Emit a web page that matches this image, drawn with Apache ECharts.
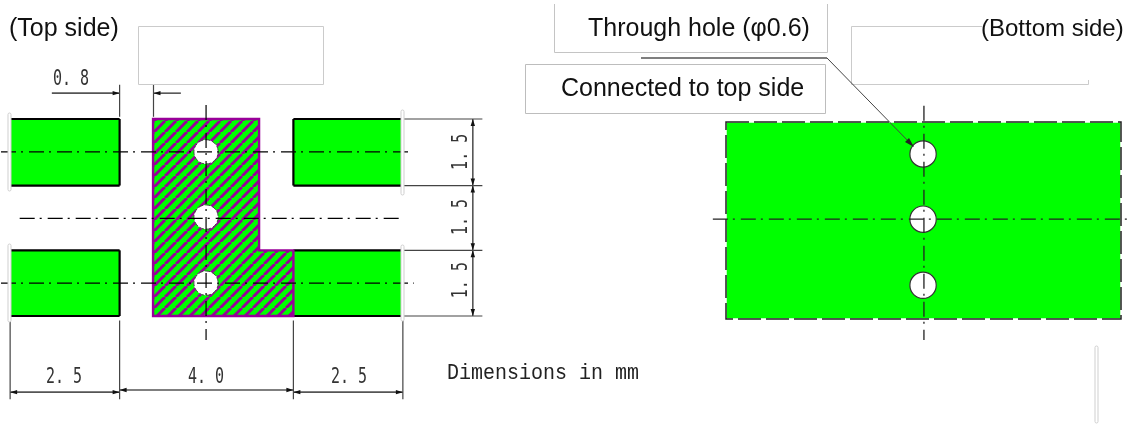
<!DOCTYPE html>
<html><head><meta charset="utf-8">
<style>html,body{margin:0;padding:0;background:#fff}#c{width:1130px;height:424px}</style>
<script src="https://cdn.jsdelivr.net/npm/echarts@6/dist/echarts.min.js"></script>
</head><body><div id="c"></div>
<script>
// All drawing values are millimetres on the part.
const padRects = [[0,0,2.5,1.52],[0,3,2.5,4.5],[6.5,0,9,1.52],[6.5,3,9,4.5]];
const padEdges = [[0,0,2.5,0],[2.5,0,2.5,1.52],[2.5,1.52,0,1.52],[0,3,2.5,3],[2.5,3,2.5,4.5],[2.5,4.5,0,4.5],
                  [9,0,6.5,0],[6.5,0,6.5,1.52],[6.5,1.52,9,1.52],[6.5,3,9,3],[6.5,4.5,9,4.5]];
const copperOutline = [[3.27,0],[5.71,0],[5.71,3],[6.5,3],[6.5,4.5],[3.27,4.5]];
const topHoles = [[4.49,0.75],[4.49,2.24],[4.49,3.75]];
const topHoleDia = 0.56;
const topCenterLines = [[-0.23,0.75,9.25,0.75],[0.2,2.27,9.0,2.27],[-0.23,3.75,9.27,3.75],[4.49,-0.32,4.49,5.05]];
const extensionLines = [[9.03,0,10.85,0],[9.03,1.52,10.85,1.52],[9.03,3,10.85,3],[9.03,4.5,10.85,4.5],
                        [-0.02,4.6,-0.02,6.4],[2.5,4.6,2.5,6.4],[6.5,4.6,6.5,6.4],[9.02,4.6,9.02,6.4],
                        [2.5,-0.78,2.5,-0.05],[3.28,-0.78,3.28,-0.05]];
const dimensionLines = [[-0.02,6.24,2.5,6.24],[2.5,6.19,6.5,6.19],[6.5,6.24,9.02,6.24],
                        [10.63,0,10.63,1.52],[10.63,1.52,10.63,3],[10.63,3,10.63,4.5]];
const outsideDim = [[0.94,-0.59,2.5,-0.59],[3.91,-0.59,3.28,-0.59]];
const dimLabels = [["0. 8",1.38,-0.91,0],["2. 5",1.22,5.9,0],["4. 0",4.49,5.9,0],["2. 5",7.78,5.9,0],
                   ["1. 5",10.36,0.75,1],["1. 5",10.36,2.24,1],["1. 5",10.36,3.68,1]];
const bottomPlane = [[0,0,9,4.5]];
const bottomHoles = [[4.49,0.73],[4.49,2.22],[4.49,3.73]];
const bottomHoleDia = 0.6;
const bottomCenterLines = [[-0.3,2.22,9.3,2.22],[4.51,-0.37,4.51,4.98]];

const GREEN='#00ff00', PURPLE='#990099';
const CENTER=[15,5,2,6];

function hatch(){
  const s=11, c=document.createElement('canvas'); c.width=c.height=s;
  const g=c.getContext('2d'); g.fillStyle=GREEN; g.fillRect(0,0,s,s);
  g.strokeStyle=PURPLE; g.lineWidth=3;
  for(let i=-1;i<=1;i++){g.beginPath();g.moveTo(i*s,s);g.lineTo(i*s+s,0);g.stroke();}
  return {image:c,repeat:'repeat'};
}
function ax(max,inv,i){return {type:'value',gridIndex:i,min:0,max:max,inverse:inv,show:false,scale:false};}
function custom(grid,data,render,z){
  return {type:'custom',xAxisIndex:grid,yAxisIndex:grid,data:data,clip:false,silent:true,z:z||2,
    animation:false,renderItem:render,encode:{x:0,y:1}};
}
const segs=(style)=>(p,api)=>{
  const a=api.coord([api.value(0),api.value(1)]),b=api.coord([api.value(2),api.value(3)]);
  return {type:'line',shape:{x1:a[0],y1:a[1],x2:b[0],y2:b[1]},style:Object.assign({fill:null},style)};
};
const rects=(style)=>(p,api)=>{
  const a=api.coord([api.value(0),api.value(1)]),b=api.coord([api.value(2),api.value(3)]);
  return {type:'rect',shape:{x:a[0],y:a[1],width:b[0]-a[0],height:b[1]-a[1]},style:style};
};
const holes=(dia,style)=>(p,api)=>{
  const a=api.coord([api.value(0),api.value(1)]),s=api.size([dia,dia]);
  return {type:'circle',shape:{cx:a[0],cy:a[1],r:s[0]/2},style:style};
};
function arrow(tip,dx,dy,len,w){
  const px=-dy,py=dx;
  return {type:'polygon',shape:{points:[[tip[0],tip[1]],
    [tip[0]-dx*len+px*w,tip[1]-dy*len+py*w],[tip[0]-dx*len-px*w,tip[1]-dy*len-py*w]]},
    style:{fill:'#111'}};
}
const dimRender=(both)=>(p,api)=>{
  const a=api.coord([api.value(0),api.value(1)]),b=api.coord([api.value(2),api.value(3)]);
  const L=Math.hypot(b[0]-a[0],b[1]-a[1]),dx=(b[0]-a[0])/L,dy=(b[1]-a[1])/L;
  const ch=[{type:'line',shape:{x1:a[0],y1:a[1],x2:b[0],y2:b[1]},style:{stroke:'#555',lineWidth:1.6}}];
  ch.push(arrow(b,dx,dy,7,2.2));
  if(both) ch.push(arrow(a,-dx,-dy,7,2.2));
  return {type:'group',children:ch};
};
const labelRender=(p,api)=>{
  const d=dimLabels[p.dataIndex],a=api.coord([d[1],d[2]]),v=d[3]===1;
  return {type:'text',x:a[0],y:a[1],rotation:v?Math.PI/2:0,scaleX:1,scaleY:1.4,
    style:{text:d[0],font:'15px "DejaVu Sans Mono"',fill:'#333',align:'center',verticalAlign:'middle'}};
};
const copper=(p,api)=>({type:'polygon',shape:{points:copperOutline.map(c=>api.coord(c))},
  style:{fill:hatch(),stroke:PURPLE,lineWidth:2.4}});

const text=(t,x,y,size)=>({type:'text',x:x,y:y,z:20,silent:true,
  style:{text:t,font:size+'px "Liberation Sans"',fill:'#111',verticalAlign:'middle',align:'left'}});
const poly=(pts,close,color,w)=>({type:close?'polygon':'polyline',z:15,silent:true,shape:{points:pts},
  style:{fill:close?'#fff':null,stroke:color,lineWidth:w}});
const sliver=(x,y1,y2)=>({type:'rect',z:15,silent:true,shape:{x:x,y:y1,width:3,height:y2-y1,r:2},
  style:{fill:'#fff',stroke:'#cfcfcf',lineWidth:1}});

const chart=echarts.init(document.getElementById('c'),null,{renderer:'canvas'});
chart.setOption({
  animation:false,backgroundColor:'#fff',
  grid:[{left:11,top:119,width:391,height:197},{left:726,top:122,width:395,height:197}],
  xAxis:[ax(9,false,0),ax(9,false,1)],
  yAxis:[ax(4.5,true,0),ax(4.5,true,1)],
  graphic:{elements:[
    poly([[138.5,26.5],[323.5,26.5],[323.5,84.5],[138.5,84.5]],true,'#cbcbcb',1),
    poly([[1088.5,80],[1088.5,84.5],[851.5,84.5],[851.5,26.5],[982,26.5]],false,'#cbcbcb',1),
    poly([[554.5,4],[554.5,52.5],[827.5,52.5],[827.5,4]],false,'#c4c4c4',1),
    poly([[525.5,64.5],[825.5,64.5],[825.5,113.5],[525.5,113.5]],true,'#bdbdbd',1),
    poly([[641,58],[827,58]],false,'#555',1.5),
    poly([[827,58],[912,145]],false,'#444',1),
    {type:'polygon',z:16,silent:true,shape:{points:[[914,147],[905,142],[909,138]]},style:{fill:'#222'}},
    sliver(8,113,191),sliver(8,244,322),sliver(401,110,195),sliver(401,245,321),sliver(1095,346,423),
    text('(Top side)',9,29,25),
    text('(Bottom side)',981,29,24),
    text('Through hole (\u03c60.6)',588,29,25),
    text('Connected to top side',561,89,25),
    {type:'text',x:447,y:373,z:20,silent:true,scaleY:1.12,style:{text:'Dimensions in mm',font:'20px "Liberation Mono"',fill:'#222',verticalAlign:'middle'}}
  ]},
  series:[
    custom(0,padRects,rects({fill:GREEN}),1),
    custom(0,padEdges,segs({stroke:'#000',lineWidth:2.2}),2),
    custom(0,[[0,0]],copper,3),
    custom(0,topHoles,holes(topHoleDia,{fill:'#fff',stroke:'#444',lineWidth:1,lineDash:[5,2]}),4),
    custom(0,topCenterLines,segs({stroke:'#000',lineWidth:1.2,lineDash:CENTER}),5),
    custom(0,extensionLines,segs({stroke:'#444',lineWidth:1.2}),5),
    custom(0,dimensionLines,dimRender(true),6),
    custom(0,outsideDim,dimRender(false),6),
    custom(0,dimLabels.map(d=>[d[1],d[2]]),labelRender,7),
    custom(1,bottomPlane,rects({fill:GREEN,stroke:'#fff',lineWidth:1.5}),1),
    custom(1,bottomPlane,rects({fill:null,stroke:'#222',lineWidth:1.5,lineDash:[23,5]}),2),
    custom(1,bottomHoles,holes(bottomHoleDia,{fill:'#fff',stroke:'#333',lineWidth:1.2}),3),
    custom(1,bottomCenterLines,segs({stroke:'#222',lineWidth:1.3,lineDash:CENTER}),4)
  ]
});
</script></body></html>
